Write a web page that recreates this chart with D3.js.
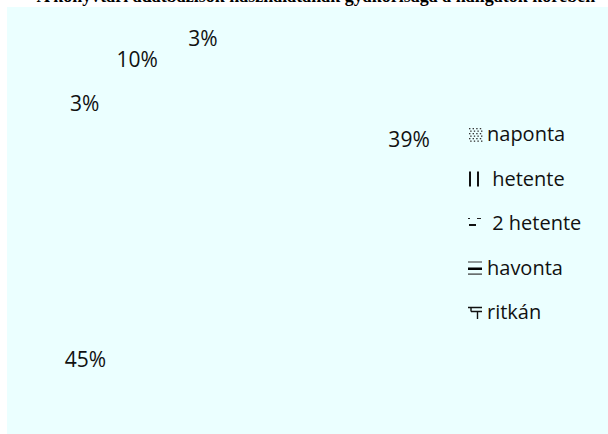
<!DOCTYPE html>
<html>
<head>
<meta charset="utf-8">
<script src="https://cdn.jsdelivr.net/npm/d3@7"></script>
<style>
  html, body { margin: 0; padding: 0; background: #ffffff; }
  svg { display: block; }
</style>
</head>
<body>
<svg id="chart" width="608" height="434"></svg>
<script>
// ---- data ----
const categories = ["naponta", "hetente", "2 hetente", "havonta", "ritkán"];
const legendLabels = ["naponta", " hetente", " 2 hetente", "havonta", "ritkán"];
const values = [39, 45, 3, 10, 3];
const titleText = "A könyvtári adatbázisok használatának gyakorisága a hallgatók körében";

// ---- layout / style ----
const W = 608, H = 434;
const panel = { x: 7, y: 7, w: 601, h: 427, fill: "#ebffff" };
const cx = 219, cy = 208, outerR = 185;
const font = "'Open Sans', 'Noto Sans', sans-serif";

const svg = d3.select("#chart");

// title (partly hidden behind the plot panel, as in the reference)
svg.append("text")
  .attr("x", 316).attr("y", 2)
  .attr("text-anchor", "middle")
  .attr("font-family", "'Liberation Serif', 'Times New Roman', serif")
  .attr("font-weight", "bold")
  .attr("font-size", 18)
  .attr("fill", "#000")
  .text(titleText);

svg.append("rect")
  .attr("x", panel.x).attr("y", panel.y)
  .attr("width", panel.w).attr("height", panel.h)
  .attr("fill", panel.fill);

// pie (slices have no visible fill in the reference)
const total = d3.sum(values);
const pie = d3.pie().sort(null).value(d => d.v);
const arcs = pie(categories.map((c, i) => ({ c, v: values[i] })));
const arc = d3.arc().innerRadius(0).outerRadius(outerR);
const g = svg.append("g").attr("transform", `translate(${cx},${cy})`);
g.selectAll("path.slice").data(arcs).join("path")
  .attr("class", "slice")
  .attr("d", arc)
  .attr("fill", "none")
  .attr("stroke", "none");

const labelR = d => (d.data.v / total >= 0.2 ? 202 : 170);
const pct = d3.format(".0%");
g.selectAll("text.lbl").data(arcs).join("text")
  .attr("class", "lbl")
  .attr("transform", d => {
    const r = labelR(d);
    const c = d3.arc().innerRadius(r).outerRadius(r).centroid(d);
    return `translate(${c[0]},${c[1]})`;
  })
  .attr("dy", "0.36em")
  .attr("text-anchor", "middle")
  .attr("font-family", font)
  .attr("font-size", 21)
  .attr("fill", "#111")
  .text(d => pct(d.data.v / total));

// legend
const ly = d3.scalePoint().domain(categories).range([141, 319]);
const swX = 468, textX = 487;

// small swatch drawings (pattern pieces) keyed by category
const swatchShapes = {
  "naponta": (sel) => {
    for (let r = 0; r < 6; r++) {
      for (let c = 0; c < 4; c++) {
        sel.append("rect")
          .attr("x", 1 + c * 3.6 + (r % 2) * 1.2).attr("y", 1 + r * 2.5)
          .attr("width", 1.4).attr("height", 1.3)
          .attr("fill", "#333");
      }
    }
  },
  "hetente": (sel) => {
    sel.append("rect").attr("x", 1).attr("y", 0).attr("width", 2).attr("height", 15).attr("fill", "#111");
    sel.append("rect").attr("x", 9).attr("y", 0).attr("width", 2).attr("height", 15).attr("fill", "#111");
  },
  "2 hetente": (sel) => {
    sel.append("rect").attr("x", 0).attr("y", 2).attr("width", 2).attr("height", 1).attr("fill", "#222");
    sel.append("rect").attr("x", 9).attr("y", 2).attr("width", 4).attr("height", 1).attr("fill", "#222");
    sel.append("rect").attr("x", 1).attr("y", 8).attr("width", 7).attr("height", 2).attr("fill", "#111");
  },
  "havonta": (sel) => {
    sel.append("rect").attr("x", 0).attr("y", 1).attr("width", 14).attr("height", 1).attr("fill", "#333");
    sel.append("rect").attr("x", 0).attr("y", 7).attr("width", 14).attr("height", 2.5).attr("fill", "#000");
    sel.append("rect").attr("x", 0).attr("y", 13).attr("width", 14).attr("height", 1.2).attr("fill", "#333");
  },
  "ritkán": (sel) => {
    sel.append("path")
      .attr("d", "M0,2.5 H14 M3,2.5 V6.5 M3,6.5 H14 M9.5,6.5 V14")
      .attr("stroke", "#111").attr("stroke-width", 1.4).attr("fill", "none");
  }
};

const leg = svg.append("g");
const items = leg.selectAll("g.item").data(categories).join("g")
  .attr("class", "item");

items.append("g")
  .attr("transform", d => `translate(${swX},${ly(d) - 14})`)
  .each(function (d) { swatchShapes[d](d3.select(this)); });

items.append("text")
  .attr("x", textX)
  .attr("y", d => ly(d))
  .attr("font-family", font)
  .attr("font-size", 20)
  .attr("fill", "#111")
  .style("white-space", "pre")
  .attr("xml:space", "preserve")
  .text((d, i) => legendLabels[i]);
</script>
</body>
</html>
